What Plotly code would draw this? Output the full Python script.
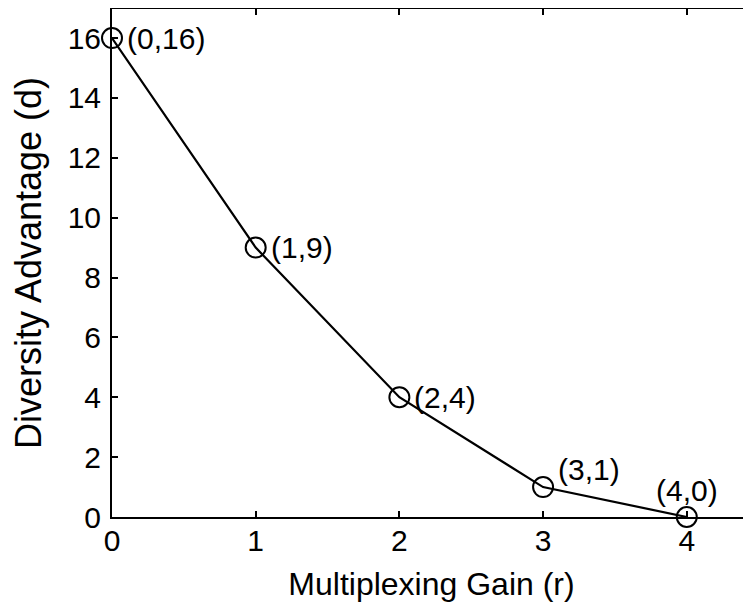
import plotly.graph_objects as go

r_vals = [0, 1, 2, 3, 4]
d_vals = [16, 9, 4, 1, 0]
x_ticks = [0, 1, 2, 3, 4]
y_ticks = [0, 2, 4, 6, 8, 10, 12, 14, 16]

FONT = "Liberation Sans, Arial, Helvetica, sans-serif"
FS = 30

fig = go.Figure()
fig.add_trace(go.Scatter(
    x=r_vals, y=d_vals, mode="lines+markers",
    line=dict(color="black", width=2.2),
    marker=dict(symbol="circle-open", size=20, color="black", line=dict(width=2, color="black")),
    showlegend=False, cliponaxis=False,
))

# label offsets (pixels): (xshift, yshift, xanchor)
label_pos = [(13, 0, "left"), (13, 0, "left"), (13, 0, "left"), (13, 18, "left"), (0, 27, "center")]
for rv, dv, (xs, ys, xa) in zip(r_vals, d_vals, label_pos):
    fig.add_annotation(x=rv, y=dv, text=f"({rv},{dv})", showarrow=False,
                       xanchor=xa, yanchor="middle", xshift=xs, yshift=ys,
                       font=dict(family=FONT, size=FS, color="black"))

fig.update_layout(
    width=743, height=599,
    margin=dict(l=104, r=0, t=1, b=90),
    paper_bgcolor="white", plot_bgcolor="white",
    font=dict(family=FONT, size=FS, color="black"),
)
fig.update_xaxes(
    range=[0, 4.447], tickvals=x_ticks, ticks="inside", ticklen=6, tickwidth=2,
    tickcolor="black", showline=True, linecolor="black", linewidth=2,
    mirror="ticks", showgrid=False, zeroline=False, automargin=False,
    ticklabelstandoff=-4,
    title=dict(text="Multiplexing Gain (r)", standoff=17, font=dict(size=32)),
    tickfont=dict(size=FS),
)
fig.update_yaxes(
    range=[0, 16.97], tickvals=y_ticks, ticks="inside", ticklen=6, tickwidth=2,
    tickcolor="black", showline=True, linecolor="black", linewidth=2,
    mirror=False, showgrid=False, zeroline=False, automargin=False,
    ticklabelstandoff=3,
    title=dict(text="Diversity Advantage (d)", standoff=18, font=dict(size=36)),
    tickfont=dict(size=FS),
)
fig.write_html("out.html")
